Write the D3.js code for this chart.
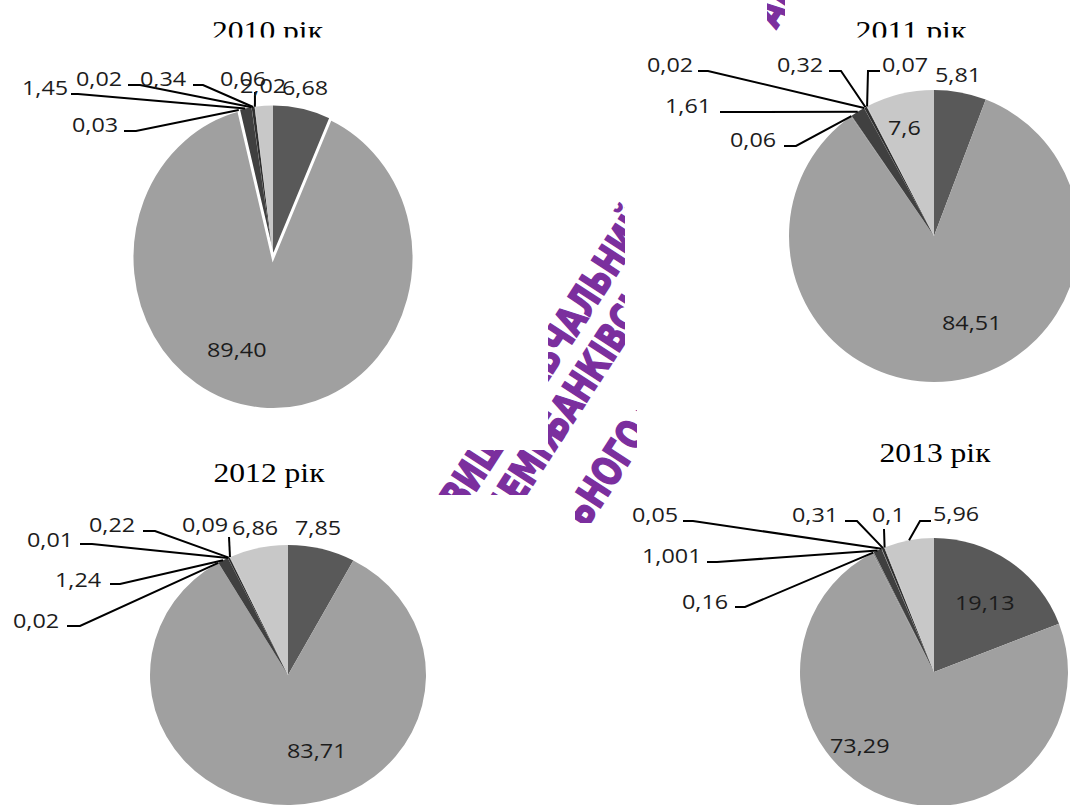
<!DOCTYPE html>
<html>
<head>
<meta charset="utf-8">
<script src="https://cdn.jsdelivr.net/npm/d3@7"></script>
<style>
  body { margin: 0; background: #fff; }
  svg { display: block; }
</style>
</head>
<body>
<svg id="chart" width="1070" height="805"></svg>
<script>
// ---- data -------------------------------------------------------------
const sliceKeys = ["s1", "s2", "s3", "s4", "s5", "s6", "s7", "s8"];
const years = ["2010 рік", "2011 рік", "2012 рік", "2013 рік"];
const values2010 = [6.68, 89.40, 0.03, 1.45, 0.02, 0.34, 0.06, 2.02];
const values2011 = [5.81, 84.51, 0.06, 1.61, 0.02, 0.32, 0.07, 7.6];
const values2012 = [7.85, 83.71, 0.02, 1.24, 0.01, 0.22, 0.09, 6.86];
const values2013 = [19.13, 73.29, 0.16, 1.001, 0.05, 0.31, 0.1, 5.96];
const labelDecimals = [2, null, null, null];

// ---- styling / layout ----------------------------------------------------
const sliceColors = ["#595959", "#a0a0a0", "#8c8c8c", "#404040", "#7f7f7f", "#303030", "#b4b4b4", "#c8c8c8"];

const pieLayout = [
  { cx: 273, cy: 257.5, rx: 141, ry: 152, outlined: [1] },
  { cx: 934, cy: 236,   rx: 145, ry: 146, outlined: [] },
  { cx: 288, cy: 675,   rx: 138, ry: 130, outlined: [] },
  { cx: 934, cy: 672,   rx: 134, ry: 134, outlined: [] }
];
const titleLayout = [
  { x: 267.5, y: 40,  clipY: 37.5 },
  { x: 911,   y: 40,  clipY: 37.5 },
  { x: 269,   y: 482 },
  { x: 935,   y: 462 }
];
// text position (left, baseline) and optional leader start/elbow points
const labelLayout = [
  [ { x: 282, y: 95 }, { x: 207, y: 357 },
    { x: 72,  y: 132, leader: [[124, 131], [136, 131]] },
    { x: 22,  y: 95,  leader: [[71, 94], [78, 94]] },
    { x: 76,  y: 86,  leader: [[128, 85], [140, 85]] },
    { x: 140, y: 86,  leader: [[193, 85], [203, 85]] },
    { x: 220, y: 86,  leader: [[255, 92]] },
    { x: 240, y: 93 } ],
  [ { x: 935, y: 82 }, { x: 942, y: 330 },
    { x: 730, y: 147, leader: [[784, 146], [796, 146]] },
    { x: 665, y: 113, leader: [[720, 112], [730, 112]] },
    { x: 647, y: 72,  leader: [[698, 71], [708, 71]] },
    { x: 777, y: 72,  leader: [[829, 71], [841, 71]] },
    { x: 882, y: 72,  leader: [[880, 71], [868, 71]] },
    { x: 888, y: 135 } ],
  [ { x: 295, y: 535 }, { x: 287, y: 758 },
    { x: 13,  y: 628, leader: [[67, 626], [80, 626]] },
    { x: 55,  y: 587, leader: [[110, 584], [120, 584]] },
    { x: 27,  y: 547, leader: [[80, 544], [92, 544]] },
    { x: 89,  y: 532, leader: [[143, 531], [155, 531]] },
    { x: 182, y: 532, leader: [[229, 537]] },
    { x: 232, y: 535 } ],
  [ { x: 955, y: 610 }, { x: 830, y: 753 },
    { x: 682, y: 609, leader: [[735, 607], [745, 607]] },
    { x: 642, y: 563, leader: [[707, 562], [717, 562]] },
    { x: 632, y: 522, leader: [[683, 521], [693, 521]] },
    { x: 792, y: 522, leader: [[845, 521], [857, 521]] },
    { x: 872, y: 522, leader: [[884, 529]] },
    { x: 933, y: 521, leader: [[931, 521], [920, 521]] } ]
];

const seriesValues = [values2010, values2011, values2012, values2013];
const svg = d3.select("#chart");
const defs = svg.append("defs");

// ---- watermark band (diagonal purple lettering, visible between panels) --
const wmLines = [
  { off: 653, words: [["ДЕРЖАВНИЙ", -400], ["ВИЩИЙ", -178], ["НАВЧАЛЬНИЙ", -63], ["ЗАКЛАД", 167], ["«УКРАЇНСЬКА", 310]] },
  { off: 697, words: [["«УКРАЇНСЬКА", -500], ["АКАДЕМІЯ", -236], ["БАНКІВСЬКОЇ", -66], ["СПРАВИ", 200]] },
  { off: 766, words: [["НАЦІОНАЛЬНОГО", -308], ["БАНКУ", 0], ["УКРАЇНИ»", 140]] }
];
const wmAngle = -57, wmScaleX = 0.74, wmSize = 40;
const wm = svg.append("g").attr("transform", `rotate(${wmAngle}) scale(${wmScaleX},1)`);
wmLines.forEach(line => {
  const t = wm.append("text")
    .attr("font-family", "DejaVu Sans").attr("font-weight", "bold")
    .attr("font-size", wmSize).attr("fill", "#7b2f9e")
    .attr("stroke", "#7b2f9e").attr("stroke-width", 1.6);
  line.words.forEach(([w, xp]) => {
    t.append("tspan").attr("x", xp / wmScaleX).attr("y", line.off + 14).text(w);
  });
});
// white panel backgrounds hide the lettering outside the gaps
const panelBacks = [[0, 0, 548, 450], [0, 495, 575, 805], [575, 523, 637, 805],
                    [625, 33, 1070, 410], [637, 410, 1070, 805], [625, 0, 767, 33], [785, 0, 1070, 33]];
svg.append("g").selectAll("rect").data(panelBacks).join("rect")
  .attr("x", d => d[0]).attr("y", d => d[1])
  .attr("width", d => d[2] - d[0]).attr("height", d => d[3] - d[1])
  .attr("fill", "#fff");

// ---- pies ---------------------------------------------------------------
const pie = d3.pie().sort(null).value(d => d.value);

function fmt(v, dec) {
  const s = dec == null ? String(v) : v.toFixed(dec);
  return s.replace(".", ",");
}

seriesValues.forEach((vals, i) => {
  const L = pieLayout[i];
  const data = vals.map((v, k) => ({ key: sliceKeys[k], value: v }));
  const arcs = pie(data);
  const arc = d3.arc().innerRadius(0).outerRadius(L.rx);
  const sy = L.ry / L.rx;

  const g = svg.append("g").attr("transform", `translate(${L.cx},${L.cy}) scale(1,${sy})`);
  g.selectAll("path.slice").data(arcs).join("path")
    .attr("class", "slice")
    .attr("d", arc)
    .attr("fill", (d, k) => sliceColors[k]);
  // slices drawn with a white outline
  g.selectAll("path.outl").data(arcs.filter((d, k) => L.outlined.includes(k))).join("path")
    .attr("class", "outl")
    .attr("d", arc)
    .attr("fill", "none")
    .attr("stroke", "#fff")
    .attr("stroke-width", 3)
    .attr("vector-effect", "non-scaling-stroke");

  // title
  const T = titleLayout[i];
  let tg = svg.append("g");
  if (T.clipY) {
    const id = "tclip" + i;
    defs.append("clipPath").attr("id", id).append("rect")
      .attr("x", T.x - 80).attr("y", 0).attr("width", 160).attr("height", T.clipY);
    tg.attr("clip-path", `url(#${id})`);
  }
  tg.append("text")
    .attr("x", T.x).attr("y", T.y)
    .attr("text-anchor", "middle")
    .attr("font-family", "Liberation Serif, Times New Roman, serif")
    .attr("font-size", 28)
    .attr("textLength", 111).attr("lengthAdjust", "spacingAndGlyphs")
    .attr("fill", "#000")
    .text(years[i]);

  // leader lines: from the label, through the elbow, to the slice edge
  const labels = labelLayout[i];
  arcs.forEach((d, k) => {
    const lab = labels[k];
    if (!lab.leader) return;
    const a = (d.startAngle + d.endAngle) / 2;
    const tx = L.cx + L.rx * Math.sin(a);
    const ty = L.cy - L.ry * Math.cos(a);
    const pts = lab.leader.concat([[tx, ty]]);
    svg.append("path")
      .attr("d", d3.line()(pts))
      .attr("fill", "none")
      .attr("stroke", "#000")
      .attr("stroke-width", 2);
  });

  // value labels
  arcs.forEach((d, k) => {
    const lab = labels[k];
    svg.append("text")
      .attr("transform", `translate(${lab.x},${lab.y}) scale(1.17,1)`)
      .attr("font-family", "Open Sans, sans-serif")
      .attr("font-size", 20)
      .attr("fill", "#1c1c1c")
      .text(fmt(d.data.value, labelDecimals[i]));
  });
});
</script>
</body>
</html>
